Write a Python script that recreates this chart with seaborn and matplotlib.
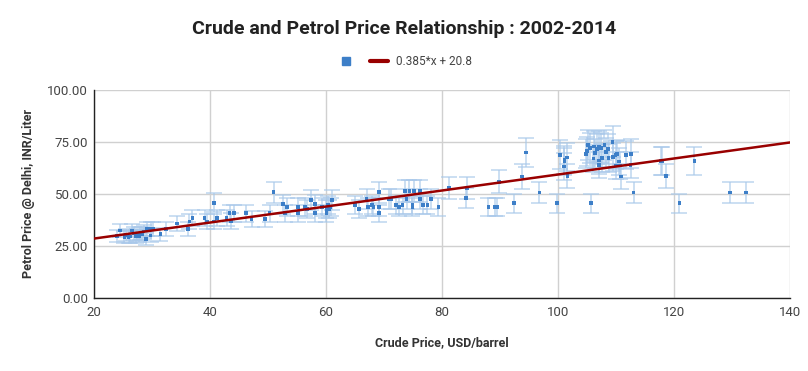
import numpy as np
import pandas as pd
import seaborn as sns
import matplotlib.pyplot as plt
from matplotlib.lines import Line2D

# Monthly crude price (USD/barrel) vs petrol price in Delhi (INR/Liter)
crude = [40.7, 34.4, 36.5, 37.0, 36.3, 39.1, 39.5, 40.7, 41.2, 32.5,
         31.5, 30.2, 29.8, 29.2, 29.0, 29.8, 28.6, 28.3, 27.8, 27.5,
         27.2, 26.6, 26.3, 25.5, 25.3, 24.5, 24.0, 26.0, 26.9, 27.9,
         42.9, 43.4, 43.6, 44.2, 46.2, 47.2, 49.5, 50.3, 51.0, 52.6,
         52.9, 53.3, 55.2, 55.2, 56.4, 57.4, 56.7, 58.1, 58.1, 59.3,
         60.1, 60.1, 60.4, 60.8, 61.1, 60.5,
         65.0, 65.7, 67.0, 67.3, 67.9, 68.2, 69.2, 69.2, 69.2, 70.9,
         71.3, 72.1, 72.6, 73.2, 73.6, 73.9, 74.4, 74.9, 75.2, 74.9,
         76.2, 76.2, 76.7, 77.5, 78.1, 79.4, 81.2, 84.3, 84.1, 88.0,
         89.1, 89.5, 89.8, 92.4, 93.8, 96.8, 99.8, 101.0, 101.6, 101.1,
         94.5, 100.3, 101.1, 101.5,
         104.8, 105.2, 105.5, 106.2, 106.7, 106.4, 107.1, 107.4, 108.0, 107.6,
         107.0, 106.1, 108.6, 108.7, 109.4, 109.5, 109.9, 110.1, 110.5, 110.0,
         110.7, 110.8, 111.7, 112.6, 112.5, 113.0, 105.7, 107.0, 105.0, 108.3,
         117.7, 117.9, 118.6, 123.5, 120.9, 129.6, 132.4]
petrol = [45.7, 35.7, 36.7, 38.3, 33.0, 38.3, 36.7, 36.7, 38.3, 33.2,
          30.6, 33.0, 33.0, 33.0, 28.2, 30.0, 31.9, 30.8, 29.8, 30.3,
          29.5, 32.4, 29.5, 30.3, 29.2, 32.4, 29.8, 29.2, 31.0, 30.8,
          38.3, 40.7, 37.0, 40.7, 40.7, 38.0, 38.0, 40.7, 50.8, 45.0,
          40.7, 43.6, 40.7, 43.6, 43.6, 47.1, 42.6, 45.0, 40.7, 43.6,
          42.6, 40.7, 44.7, 43.6, 47.1, 42.6,
          44.7, 42.6, 47.4, 43.6, 44.7, 43.6, 50.8, 43.6, 40.7, 47.4,
          47.4, 44.7, 43.6, 44.7, 51.4, 47.4, 51.4, 44.7, 51.4, 43.6,
          51.4, 47.4, 44.7, 44.7, 47.4, 43.6, 52.7, 52.7, 47.9, 43.6,
          43.6, 43.6, 55.8, 45.5, 58.3, 50.6, 45.5, 63.1, 58.7, 65.5,
          69.9, 68.8, 66.3, 67.5,
          69.2, 73.4, 72.1, 72.7, 71.5, 69.6, 72.7, 72.1, 73.4, 67.3,
          66.0, 67.0, 71.5, 67.3, 75.0, 67.6, 68.6, 69.1, 65.5, 63.6,
          63.6, 58.3, 68.6, 69.2, 63.9, 50.6, 45.5, 63.9, 70.5, 70.0,
          65.7, 65.7, 58.5, 65.7, 45.5, 50.6, 50.6]

# trendline coefficients and axis ranges
slope, intercept = 0.385, 20.8
x_range = [20, 140]
y_ticks = [0, 25, 50, 75, 100]
x_ticks = [20, 40, 60, 80, 100, 120, 140]
err_pct = 0.10

df = pd.DataFrame({'crude': crude, 'petrol': petrol})
trend = pd.DataFrame({'crude': x_range})
trend['petrol'] = slope * trend['crude'] + intercept

sns.set_style('white')
plt.rcParams['font.family'] = ['Roboto', 'DejaVu Sans']

fig = plt.figure(figsize=(8.08, 3.71), dpi=100)
ax = fig.add_axes([0.116, 0.197, 0.862, 0.561])

point_color = '#3d7fc8'
err_color = '#a8c8ea'
line_color = '#990000'

# error bars (10%)
ax.errorbar(df['crude'], df['petrol'], yerr=df['petrol'] * err_pct,
            fmt='none', ecolor=err_color, elinewidth=1.1, capsize=6,
            capthick=1.1, alpha=0.75, zorder=2)

sns.scatterplot(data=df, x='crude', y='petrol', marker='s', s=7,
                color=point_color, edgecolor='none', ax=ax, zorder=3)

sns.lineplot(data=trend, x='crude', y='petrol', color=line_color,
             linewidth=1.8, ax=ax, zorder=4)

ax.set_xlim(x_range)
ax.set_ylim(0, 100)
ax.set_xticks(x_ticks)
ax.set_yticks(y_ticks)
ax.set_yticklabels([f'{v:.2f}' for v in y_ticks])
ax.grid(True, color='#d0d0d0', linewidth=1)
ax.set_axisbelow(True)
for s in ['top', 'right']:
    ax.spines[s].set_visible(False)
for s in ['left', 'bottom']:
    ax.spines[s].set_color('#222222')
    ax.spines[s].set_linewidth(1)
ax.tick_params(axis='both', labelsize=9.5, colors='#444444', length=0, pad=4)
ax.tick_params(axis='x', pad=6)

ax.set_xlabel('Crude Price, USD/barrel', fontsize=9, fontweight='bold',
              color='#333333', labelpad=12)
ax.set_ylabel('Petrol Price @ Delhi, INR/Liter', fontsize=9, fontweight='bold',
              color='#333333', labelpad=9)

fig.suptitle('Crude and Petrol Price Relationship : 2002-2014', x=0.5, y=0.945,
             fontsize=14, fontweight='bold', color='#222222')

handles = [Line2D([], [], marker='s', linestyle='none', color=point_color,
                  markersize=6),
           Line2D([], [], color=line_color, linewidth=3)]
fig.legend(handles, ['', f'{slope}*x + {intercept}'], loc='center',
           bbox_to_anchor=(0.5, 0.833), ncol=2, frameon=False, fontsize=8.5,
           labelcolor='#444444', handlelength=1.6, columnspacing=0.6,
           handletextpad=0.6)

fig.savefig('out.png', dpi=100)
